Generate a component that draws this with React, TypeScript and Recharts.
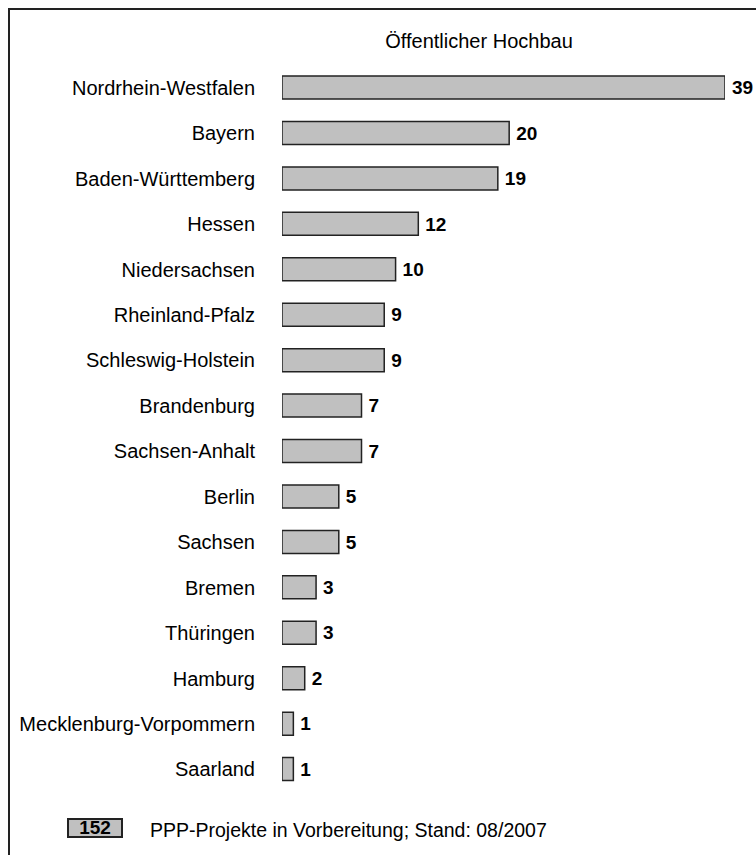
import { Bar, BarChart, LabelList, XAxis, YAxis } from 'recharts';

const laender = [
  'Nordrhein-Westfalen',
  'Bayern',
  'Baden-Württemberg',
  'Hessen',
  'Niedersachsen',
  'Rheinland-Pfalz',
  'Schleswig-Holstein',
  'Brandenburg',
  'Sachsen-Anhalt',
  'Berlin',
  'Sachsen',
  'Bremen',
  'Thüringen',
  'Hamburg',
  'Mecklenburg-Vorpommern',
  'Saarland'
];
const projekte = [39, 20, 19, 12, 10, 9, 9, 7, 7, 5, 5, 3, 3, 2, 1, 1];
const title = 'Öffentlicher Hochbau';
const total = 152;
const footnote = 'PPP-Projekte in Vorbereitung; Stand: 08/2007';

const data = laender.map((name, i) => ({ name, value: projekte[i] }));

const font = '"Liberation Sans", Arial, sans-serif';

export default function App() {
  return (
    <div style={{ position: 'relative', width: 748, height: 847, fontFamily: font }}>
      <style>{'html { overflow: hidden; } body { margin: 8px 0 0 8px; } #root { width: 748px; }'}</style>
      <div
        style={{
          position: 'absolute',
          left: 0,
          top: 0,
          width: 748,
          height: 847,
          boxSizing: 'border-box',
          borderTop: '2px solid #222',
          borderLeft: '2px solid #222'
        }}
      />
      <div style={{ position: 'absolute', left: -8, top: -8 }}>
        <BarChart
          width={756}
          height={855}
          data={data}
          layout="vertical"
          margin={{ top: 65, right: 31, bottom: 63, left: 0 }}
          barSize={23}
        >
          <XAxis type="number" hide domain={[0, 39]} allowDataOverflow />
          <YAxis
            type="category"
            dataKey="name"
            width={282}
            axisLine={false}
            tickLine={false}
            tickSize={6}
            tickMargin={21}
            interval={0}
            tick={{ fill: '#000', fontSize: 20, fontFamily: font }}
          />
          <Bar dataKey="value" fill="#c0c0c0" stroke="#222" strokeWidth={1.5} isAnimationActive={false}>
            <LabelList
              dataKey="value"
              position="right"
              offset={7}
              style={{ fill: '#000', fontSize: 19, fontWeight: 'bold', fontFamily: font }}
            />
          </Bar>
        </BarChart>
      </div>
      <div
        style={{
          position: 'absolute',
          left: 0,
          top: 22,
          width: 942,
          textAlign: 'center',
          fontSize: 20,
          color: '#000'
        }}
      >
        {title}
      </div>
      <div
        style={{
          position: 'absolute',
          left: 59,
          top: 810,
          width: 56,
          height: 20,
          boxSizing: 'border-box',
          background: '#c0c0c0',
          border: '2px solid #222',
          fontSize: 19,
          fontWeight: 'bold',
          lineHeight: '16px',
          textAlign: 'center'
        }}
      >
        {total}
      </div>
      <div style={{ position: 'absolute', left: 142, top: 811, fontSize: 19.5, color: '#000', whiteSpace: 'nowrap' }}>
        {footnote}
      </div>
    </div>
  );
}
